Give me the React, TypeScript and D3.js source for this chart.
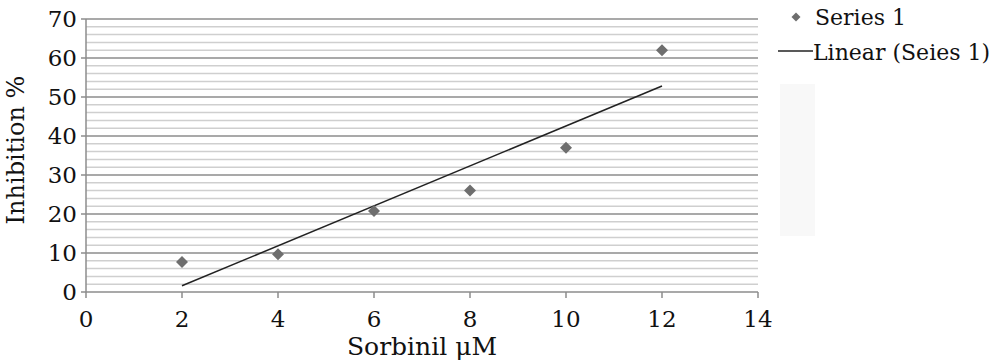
import React from "react";
import * as d3 from "d3";

const xValues = [2, 4, 6, 8, 10, 12];
const yValues = [7.7, 9.7, 20.8, 26, 37, 62];
const xTicks = [0, 2, 4, 6, 8, 10, 12, 14];
const yTicks = [0, 10, 20, 30, 40, 50, 60, 70];
const seriesName = "Series 1";
const trendName = "Linear (Seies 1)";
const xTitle = "Sorbinil μM";
const yTitle = "Inhibition %";

const W = 1000;
const H = 363;
const FONT = "DejaVu Serif";

export default function App() {
  const x = d3.scaleLinear().domain([0, 14]).range([86, 758]);
  const y = d3.scaleLinear().domain([0, 70]).range([292, 19]);

  const minor = d3.range(0, 70.001, 2).filter((v) => v % 10 !== 0);

  const mx = d3.mean(xValues)!;
  const my = d3.mean(yValues)!;
  const slope =
    d3.sum(xValues.map((v, i) => (v - mx) * (yValues[i] - my))) /
    d3.sum(xValues.map((v) => (v - mx) ** 2));
  const intercept = my - slope * mx;
  const x0 = d3.min(xValues)!;
  const x1 = d3.max(xValues)!;
  const line = d3.line<number>().x((v) => x(v)).y((v) => y(intercept + slope * v));

  const diamond = (cx: number, cy: number, r: number) =>
    `M${cx},${cy - r}L${cx + r},${cy}L${cx},${cy + r}L${cx - r},${cy}Z`;

  return (
    <svg width={W} height={H} style={{ position: "absolute", left: 0, top: 0 }}>
      <rect x={0} y={0} width={W} height={H} fill="#fff" />
      <rect x={780} y={84} width={35} height={152} fill="#f8f8f8" />
      {minor.map((v) => (
        <line key={"m" + v} x1={x(0)} x2={x(14)} y1={y(v)} y2={y(v)} stroke="#cfcfcf" strokeWidth={1.5} />
      ))}
      {yTicks.map((v) => (
        <line key={"g" + v} x1={x(0)} x2={x(14)} y1={y(v)} y2={y(v)} stroke="#8c8c8c" strokeWidth={1.5} />
      ))}
      <line x1={x(0)} x2={x(0)} y1={y(0)} y2={y(70)} stroke="#8c8c8c" strokeWidth={1.5} />
      {yTicks.map((v) => (
        <line key={"yt" + v} x1={x(0) - 5} x2={x(0)} y1={y(v)} y2={y(v)} stroke="#8c8c8c" strokeWidth={1.5} />
      ))}
      {xTicks.map((v) => (
        <line key={"xt" + v} x1={x(v)} x2={x(v)} y1={y(0)} y2={y(0) + 6} stroke="#8c8c8c" strokeWidth={1.5} />
      ))}
      {yTicks.map((v) => (
        <text key={"yl" + v} x={77} y={y(v) + 7.5} textAnchor="end" fontFamily={FONT} fontSize={23} fill="#111">
          {v}
        </text>
      ))}
      {xTicks.map((v) => (
        <text key={"xl" + v} x={x(v)} y={327} textAnchor="middle" fontFamily={FONT} fontSize={23} fill="#111">
          {v}
        </text>
      ))}
      <text x={422} y={355} textAnchor="middle" fontFamily={FONT} fontSize={25} fill="#111">
        {xTitle}
      </text>
      <text
        transform={`translate(24,${150}) rotate(-90)`}
        textAnchor="middle"
        fontFamily={FONT}
        fontSize={24}
        fill="#111"
      >
        {yTitle}
      </text>
      <path d={line([x0, x1]) || ""} stroke="#222" strokeWidth={1.5} fill="none" />
      {xValues.map((v, i) => (
        <path key={"p" + i} d={diamond(x(v), y(yValues[i]), 6)} fill="#6e6e6e" />
      ))}
      <path d={diamond(796, 17, 4.5)} fill="#6e6e6e" />
      <text x={815} y={25} fontFamily={FONT} fontSize={22} fill="#111">
        {seriesName}
      </text>
      <line x1={778} x2={813} y1={51} y2={51} stroke="#222" strokeWidth={1.5} />
      <text x={813} y={60} fontFamily={FONT} fontSize={22} fill="#111">
        {trendName}
      </text>
    </svg>
  );
}
